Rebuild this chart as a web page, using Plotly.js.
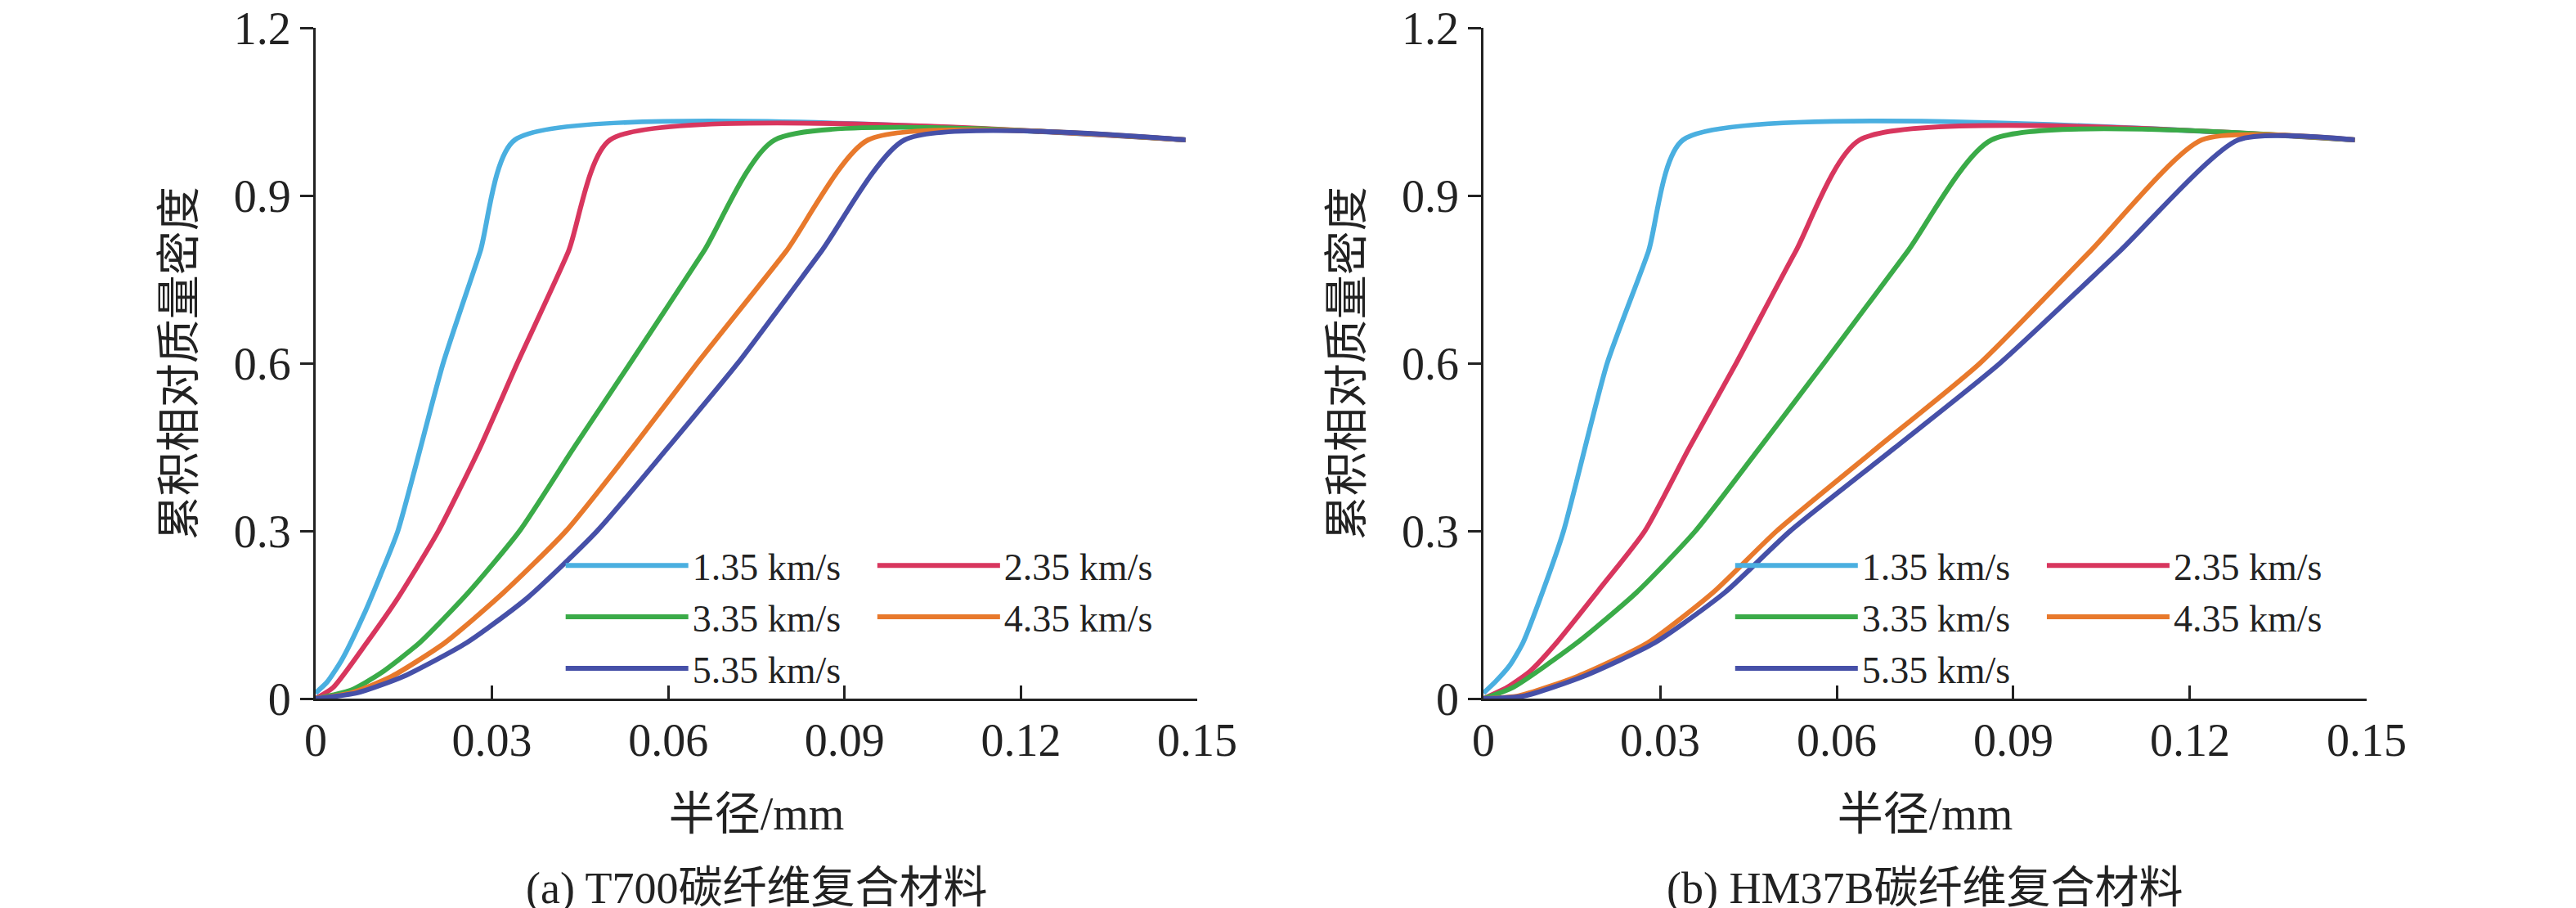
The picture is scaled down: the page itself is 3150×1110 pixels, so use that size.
<!DOCTYPE html>
<html>
<head>
<meta charset="utf-8">
<script src="https://cdn.plot.ly/plotly-3.0.1.min.js"></script>
<style>body{margin:0;background:#fff}#fig{width:3150px;height:1110px}</style>
</head>
<body>
<div id="fig"></div>
<script>
// speed labels and colours
const speeds = ['1.35 km/s', '2.35 km/s', '3.35 km/s', '4.35 km/s', '5.35 km/s'];
const colors = ['#4aafe0', '#d8365e', '#3aab48', '#e8792c', '#4650a8'];

// (a) T700 - radius (mm) / cumulative relative mass density
const aX135 = [0, 0.002, 0.0045, 0.0082, 0.011, 0.014, 0.0217, 0.028, 0.0339, 0.148];
const aY135 = [0.01, 0.03, 0.07, 0.15, 0.22, 0.3, 0.6, 0.8, 1, 1];
const aX235 = [0, 0.003, 0.0087, 0.014, 0.0209, 0.028, 0.0343, 0.043, 0.0501, 0.148];
const aY235 = [0, 0.02, 0.1, 0.18, 0.3, 0.45, 0.6, 0.8, 1, 1];
const aX335 = [0, 0.006, 0.011, 0.0177, 0.026, 0.0347, 0.044, 0.0535, 0.066, 0.0781, 0.148];
const aY335 = [0, 0.015, 0.045, 0.1, 0.19, 0.3, 0.45, 0.6, 0.8, 1, 1];
const aX435 = [0, 0.006, 0.013, 0.022, 0.032, 0.0426, 0.054, 0.0649, 0.08, 0.094, 0.148];
const aY435 = [0, 0.01, 0.04, 0.1, 0.19, 0.3, 0.45, 0.6, 0.8, 1, 1];
const aX535 = [0, 0.007, 0.015, 0.0257, 0.036, 0.0479, 0.06, 0.0718, 0.086, 0.1002, 0.148];
const aY535 = [0, 0.01, 0.04, 0.1, 0.18, 0.3, 0.45, 0.6, 0.8, 1, 1];

// (b) HM37B
const bX135 = [0, 0.002, 0.0045, 0.0067, 0.01, 0.0136, 0.021, 0.028, 0.0339, 0.148];
const bY135 = [0.01, 0.03, 0.06, 0.1, 0.19, 0.3, 0.6, 0.8, 1, 1];
const bX235 = [0, 0.004, 0.008, 0.0124, 0.02, 0.0274, 0.035, 0.0429, 0.053, 0.0639, 0.148];
const bY235 = [0, 0.02, 0.05, 0.1, 0.2, 0.3, 0.45, 0.6, 0.8, 1, 1];
const bX335 = [0, 0.005, 0.0159, 0.026, 0.036, 0.047, 0.0578, 0.072, 0.0863, 0.148];
const bY335 = [0, 0.02, 0.1, 0.19, 0.3, 0.45, 0.6, 0.8, 1, 1];
const bX435 = [0, 0.006, 0.016, 0.0279, 0.039, 0.0498, 0.067, 0.0843, 0.103, 0.122, 0.148];
const bY435 = [0, 0.005, 0.04, 0.1, 0.19, 0.3, 0.45, 0.6, 0.8, 1, 1];
const bX535 = [0, 0.007, 0.017, 0.0291, 0.041, 0.0521, 0.07, 0.0877, 0.108, 0.1282, 0.148];
const bY535 = [0, 0.005, 0.04, 0.1, 0.19, 0.3, 0.45, 0.6, 0.8, 1, 1];

const aData = [[aX135, aY135], [aX235, aY235], [aX335, aY335], [aX435, aY435], [aX535, aY535]];
const bData = [[bX135, bY135], [bX235, bY235], [bX335, bY335], [bX435, bY435], [bX535, bY535]];

const serif = '"Liberation Serif", "Noto Sans CJK SC", serif';

function traces(data, xa, ya, legs) {
    return data.map((d, i) => ({
        x: d[0], y: d[1], xaxis: xa, yaxis: ya,
        type: 'scatter', mode: 'lines', name: speeds[i],
        line: {color: colors[i], width: 6, shape: 'spline', smoothing: 0.6},
        legend: legs[i % 2],
    }));
}

const xaxisBase = {
    range: [0, 0.15], tickvals: [0, 0.03, 0.06, 0.09, 0.12, 0.15],
    ticktext: ['0', '0.03', '0.06', '0.09', '0.12', '0.15'],
    showgrid: false, zeroline: false, showline: true, linecolor: '#222', linewidth: 3,
    ticks: 'inside', ticklen: 16, tickwidth: 3, tickcolor: '#222',
    tickfont: {size: 56, family: serif, color: '#222'},
    title: {text: '半径/mm', font: {size: 56, family: serif, color: '#222'}, standoff: 40},
};
const yaxisBase = {
    range: [0, 1.2], tickvals: [0, 0.3, 0.6, 0.9, 1.2], ticktext: ['0', '0.3', '0.6', '0.9', '1.2'],
    showgrid: false, zeroline: false, showline: true, linecolor: '#222', linewidth: 3,
    ticks: 'outside', ticklen: 16, tickwidth: 3, tickcolor: '#222',
    tickfont: {size: 56, family: serif, color: '#222'},
    title: {text: '累积相对质量密度', font: {size: 54, family: serif, color: '#222'}, standoff: 30},
};
const legBase = {
    orientation: 'v', xanchor: 'left', yanchor: 'top', bgcolor: 'rgba(0,0,0,0)',
    font: {size: 46, family: serif, color: '#222'}, itemwidth: 150, tracegroupgap: 0,
};

const layout = {
    width: 3150, height: 1110,
    margin: {l: 0, r: 0, t: 0, b: 0},
    paper_bgcolor: '#fff', plot_bgcolor: '#fff',
    xaxis: Object.assign({}, xaxisBase, {domain: [0.1225, 0.4648], anchor: 'y'}),
    yaxis: Object.assign({}, yaxisBase, {domain: [0.2306, 0.969], anchor: 'x'}),
    xaxis2: Object.assign({}, xaxisBase, {domain: [0.5759, 0.9187], anchor: 'y2'}),
    yaxis2: Object.assign({}, yaxisBase, {domain: [0.2306, 0.969], anchor: 'x2'}),
    legend: Object.assign({}, legBase, {x: 0.218, y: 0.41}),
    legend2: Object.assign({}, legBase, {x: 0.339, y: 0.41}),
    legend3: Object.assign({}, legBase, {x: 0.672, y: 0.41}),
    legend4: Object.assign({}, legBase, {x: 0.793, y: 0.41}),
    annotations: [
        {text: '(a) T700碳纤维复合材料', xref: 'paper', yref: 'paper', x: 0.2937, y: 0.022,
         xanchor: 'center', yanchor: 'middle',
         showarrow: false, font: {size: 54, family: serif, color: '#222'}},
        {text: '(b) HM37B碳纤维复合材料', xref: 'paper', yref: 'paper', x: 0.7473, y: 0.022,
         xanchor: 'center', yanchor: 'middle',
         showarrow: false, font: {size: 54, family: serif, color: '#222'}},
    ],
};

const data = traces(aData, 'x', 'y', ['legend', 'legend2'])
    .concat(traces(bData, 'x2', 'y2', ['legend3', 'legend4']));
Plotly.newPlot('fig', data, layout, {staticPlot: true});
</script>
</body>
</html>
